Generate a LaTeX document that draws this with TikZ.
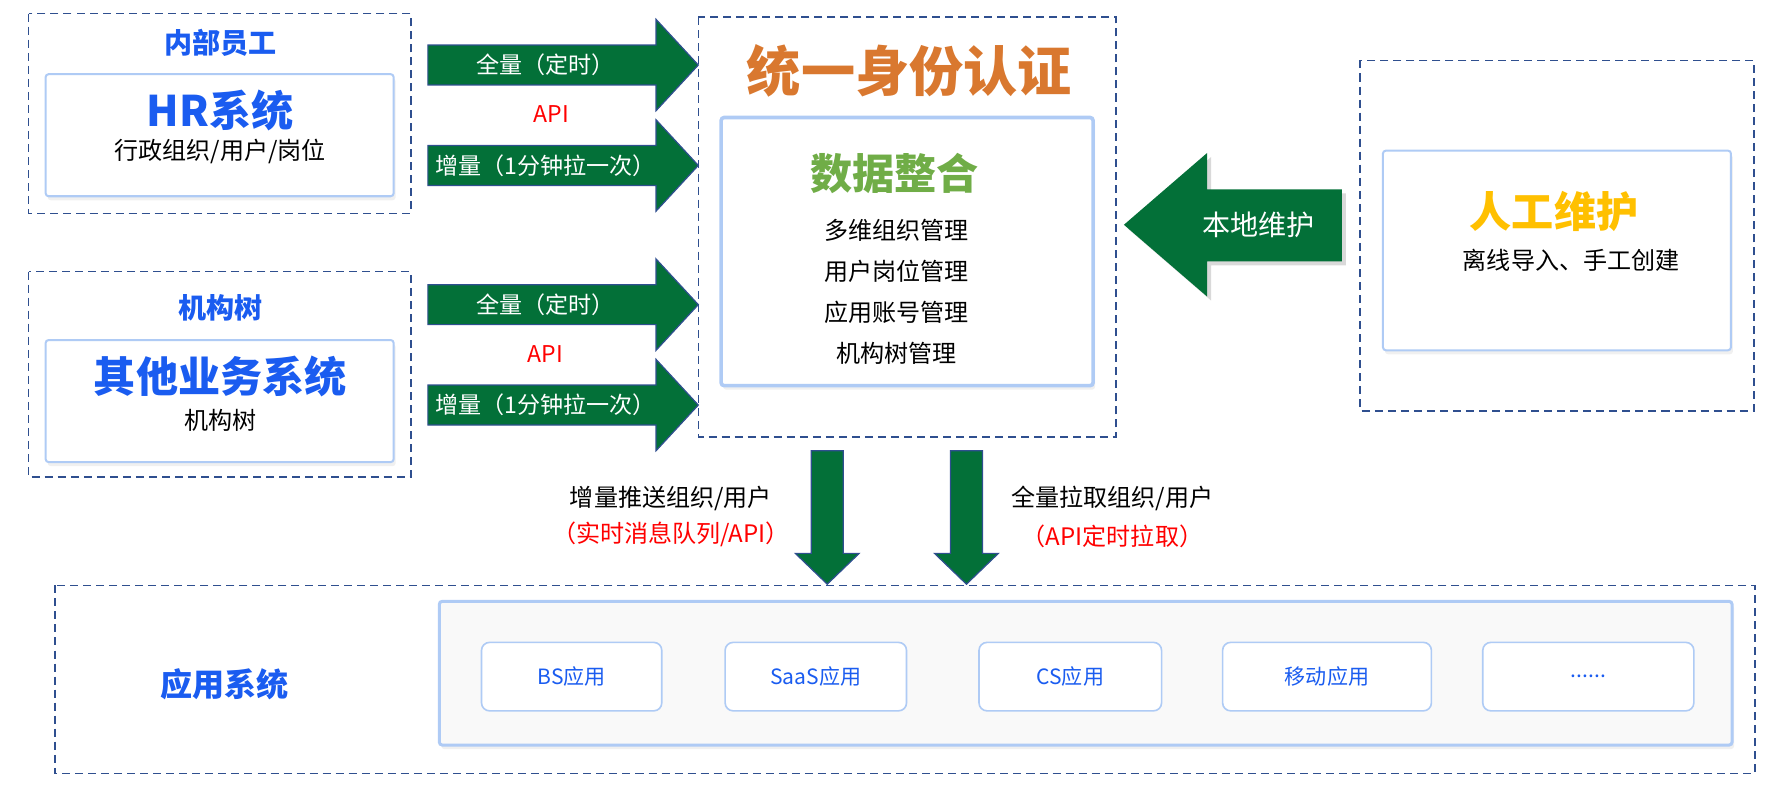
\documentclass[tikz,border=0pt]{standalone}
\usepackage{fontspec}
\setmainfont{Noto Sans CJK SC}
\usetikzlibrary{shadows}
\definecolor{dblue}{HTML}{2F4F8F}
\definecolor{tblue}{HTML}{1A5CF0}
\definecolor{gfill}{HTML}{037038}
\definecolor{lblue}{HTML}{AFCBF5}
\definecolor{orng}{HTML}{D9782F}
\definecolor{lgreen}{HTML}{70AD47}
\definecolor{ylw}{HTML}{FFC000}
\begin{document}
\begin{tikzpicture}[x=0.2mm,y=-0.2mm,
  dbox/.style={draw=dblue,dashed,line width=0.8pt,dash pattern=on 4pt off 2.5pt},
  ibox/.style={draw=lblue,line width=1pt,fill=white,rounded corners=1.5pt,drop shadow={opacity=0.12,shadow xshift=1pt,shadow yshift=-2pt}},
  garrow/.style={fill=gfill,draw=dblue,line width=0.6pt},
  ttl/.style={text=tblue,font=\bfseries\fontsize{14}{16}\selectfont},
  big/.style={text=tblue,font=\bfseries\fontsize{21}{24}\selectfont},
  txt/.style={text=black,font=\fontsize{12}{14}\selectfont},
  alab/.style={text=white,font=\fontsize{11.5}{13}\selectfont},
  red/.style={text=red,font=\fontsize{11.5}{13}\selectfont},
  app/.style={draw=lblue,line width=0.8pt,fill=white,rounded corners=4pt,minimum width=#1*0.2mm,minimum height=12mm,text=tblue,font=\fontsize{10.5}{12}\selectfont}]
\useasboundingbox (0,0) rectangle (1560,690);
% left boxes
\draw[dbox] (25,12) rectangle (360,187);
\node[ttl] (t1) at (193,38) {内部员工};
\draw[ibox] (40,65) rectangle (345,172);
\node[big] (hr) at (193,97) {HR系统};
\node[txt] (hrs) at (193,133) {行政组织/用户/岗位};
\draw[dbox] (25,238) rectangle (360,418);
\node[ttl] (t2) at (193,270) {机构树};
\draw[ibox] (40,298) rectangle (345,405);
\node[big] (ot) at (193,330) {其他业务系统};
\node[txt] (ots) at (193,368) {机构树};
% right arrows
\foreach \c/\n in {57/a1,145/a2,267/a3,355/a4}{
  \draw[garrow] (375,\c-17.5) -- (575,\c-17.5) -- (575,\c-40) -- (612,\c) -- (575,\c+40) -- (575,\c+17.5) -- (375,\c+17.5) -- cycle;
}
\node[alab] (l1) at (478,57) {全量（定时）};
\node[red] (p1) at (483,100) {API};
\node[alab] (l2) at (478,145) {增量（1分钟拉一次）};
\node[alab] (l3) at (478,267) {全量（定时）};
\node[red] (p2) at (478,310) {API};
\node[alab] (l4) at (478,355) {增量（1分钟拉一次）};
% central
\draw[dbox] (612,15) rectangle (978,383);
\node[text=orng,font=\bfseries\fontsize{27}{30}\selectfont] (uid) at (797,62) {统一身份认证};
\draw[ibox,line width=1.8pt] (632,103) rectangle (958,338);
\node[text=lgreen,font=\bfseries\fontsize{21}{24}\selectfont] (dz) at (784,152) {数据整合};
\node[txt] (m1) at (786,202) {多维组织管理};
\node[txt] (m2) at (786,238) {用户岗位管理};
\node[txt] (m3) at (786,274) {应用账号管理};
\node[txt] (m4) at (786,310) {机构树管理};
% left arrow
\draw[fill=gfill,draw=none,drop shadow={opacity=0.3,shadow xshift=2pt,shadow yshift=-2pt}] (1176,166) -- (1058,166) -- (1058,134) -- (985,197) -- (1058,260) -- (1058,229) -- (1176,229) -- cycle;
\node[alab,font=\fontsize{14}{16}\selectfont] (bd) at (1103,197) {本地维护};
% right box
\draw[dbox] (1192,53) rectangle (1537,360);
\draw[ibox] (1212,132) rectangle (1517,307);
\node[text=ylw,font=\bfseries\fontsize{21}{24}\selectfont] (rg) at (1362,185) {人工维护};
\node[txt] (rgs) at (1377,228) {离线导入、手工创建};
% down arrows
\foreach \c in {725,847}{
  \draw[garrow] (\c-14,395) -- (\c+14,395) -- (\c+14,485) -- (\c+28,485) -- (\c,512) -- (\c-28,485) -- (\c-14,485) -- cycle;
}
\node[txt] (d1) at (588,437) {增量推送组织/用户};
\node[red,font=\fontsize{12}{14}\selectfont] (d1r) at (588,468) {（实时消息队列/API）};
\node[txt] (d2) at (975,437) {全量拉取组织/用户};
\node[red,font=\fontsize{12}{14}\selectfont] (d2r) at (975,470) {（API定时拉取）};
% bottom
\draw[dbox] (48,513) rectangle (1538,678);
\node[ttl,font=\bfseries\fontsize{16}{18}\selectfont] (as) at (197,600) {应用系统};
\draw[ibox,line width=1.5pt,fill=gray!5] (385,527) rectangle (1518,653);
\node[app=158] (b1) at (501,593) {BS应用};
\node[app=159] (b2) at (715,593) {SaaS应用};
\node[app=160] (b3) at (938,593) {CS应用};
\node[app=183] (b4) at (1163,593) {移动应用};
\node[app=185] (b5) at (1392,593) {......};
\end{tikzpicture}
\end{document}
